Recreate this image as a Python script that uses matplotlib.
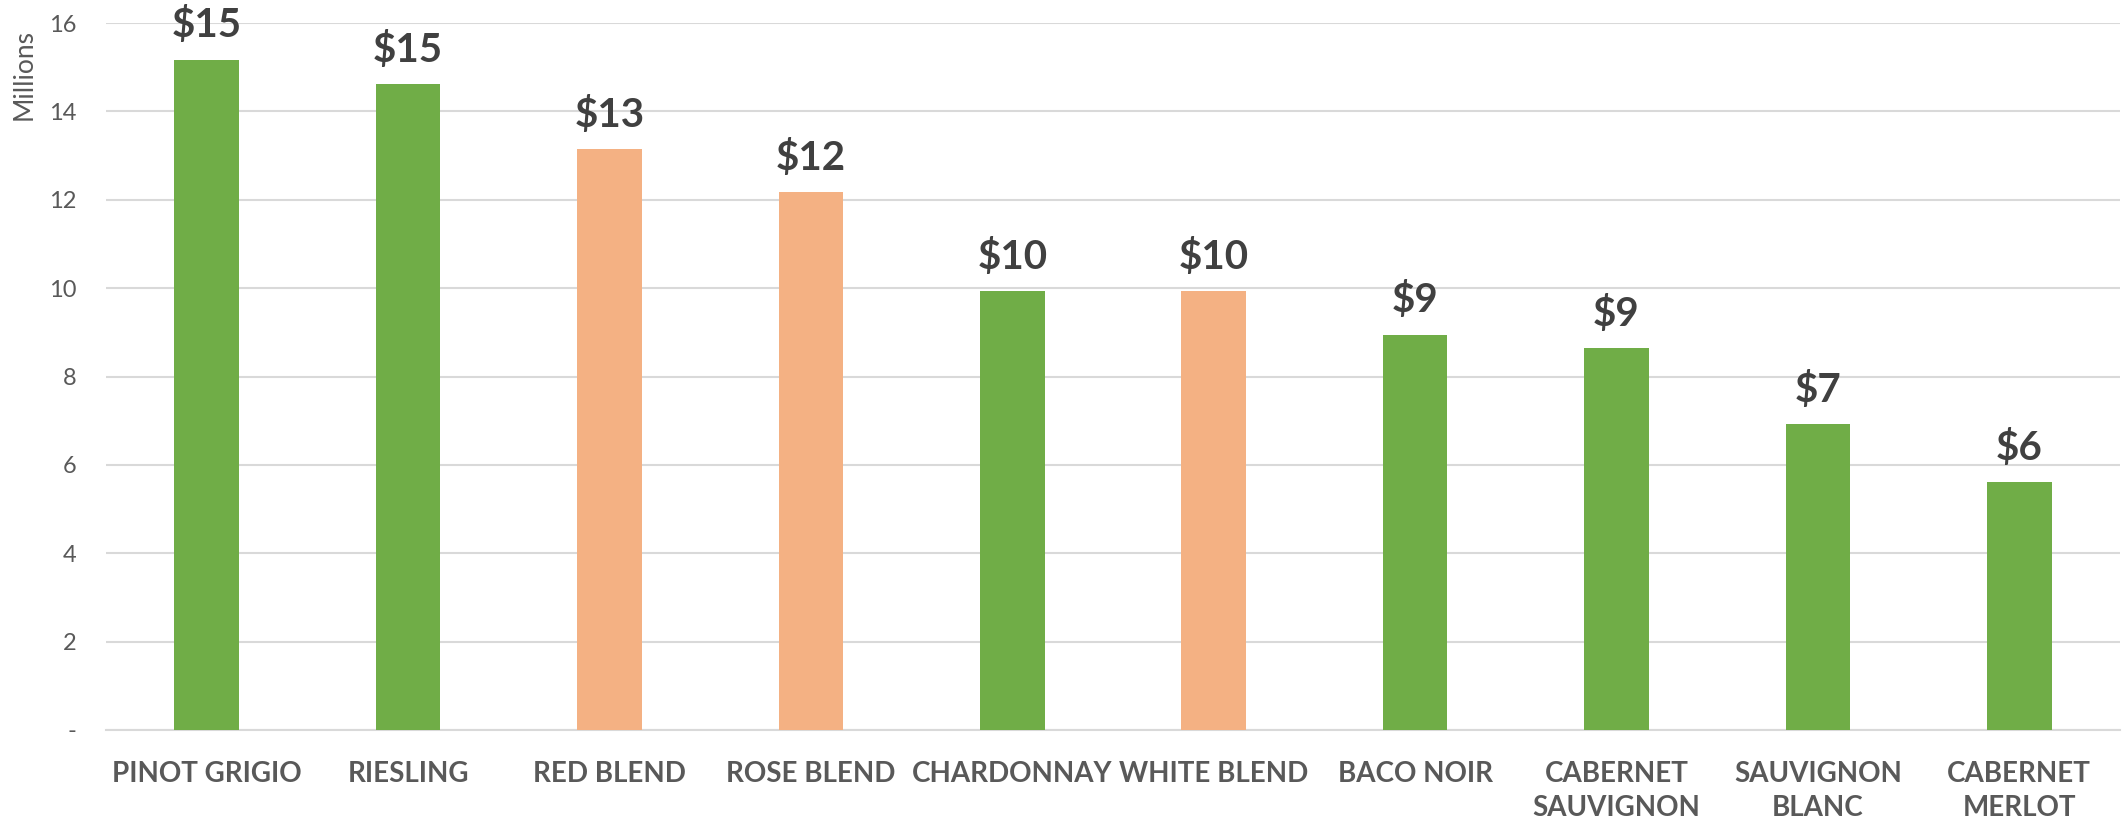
import numpy as np
import matplotlib.pyplot as plt

# wine sales, millions of dollars
wines = ['PINOT GRIGIO', 'RIESLING', 'RED BLEND', 'ROSE BLEND', 'CHARDONNAY',
         'WHITE BLEND', 'BACO NOIR', 'CABERNET\nSAUVIGNON', 'SAUVIGNON\nBLANC',
         'CABERNET\nMERLOT']
sales = [15.17, 14.62, 13.15, 12.17, 9.93, 9.93, 8.95, 8.64, 6.93, 5.61]
blend = [False, False, True, True, False, True, False, False, False, False]
yticks = [0, 2, 4, 6, 8, 10, 12, 14, 16]
ytick_labels = ['-', '2', '4', '6', '8', '10', '12', '14', '16']

green = '#70AD47'
orange = '#F4B183'
plt.rcParams['font.family'] = ['Lato', 'DejaVu Sans']

fig = plt.figure(figsize=(21.23, 8.25), dpi=100)
ax = fig.add_axes([106 / 2123, 1 - 730 / 825, (2120 - 106) / 2123, (730 - 23) / 825])

x = np.arange(len(wines))
colors = [orange if b else green for b in blend]
bars = ax.bar(x, sales, width=0.32, color=colors, zorder=3)

for xi, v in zip(x, sales):
    ax.annotate('${:.0f}'.format(v), (xi, v), xytext=(0, 11), textcoords='offset points',
                ha='center', va='bottom', fontsize=29, fontweight='bold', color='#404040')

ax.set_xlim(-0.5, len(wines) - 0.5)
ax.set_ylim(0, 16)
ax.set_yticks(yticks)
ax.set_yticklabels(ytick_labels)
ax.set_xticks(x)
ax.set_xticklabels(wines, fontsize=20, fontweight='bold', color='#595959', linespacing=1.4)
ax.tick_params(axis='x', length=0, pad=22)
ax.tick_params(axis='y', length=0, pad=21, labelsize=17, labelcolor='#595959')
ax.grid(axis='y', color='#D9D9D9', linewidth=1.5, zorder=0)
for s in ['top', 'right', 'left']:
    ax.spines[s].set_visible(False)
ax.spines['bottom'].set_color('#D9D9D9')
ax.spines['bottom'].set_linewidth(1.5)

fig.text(24 / 2123, 1 - 74 / 825, 'Millions', rotation=90, ha='center', va='center',
         fontsize=19, color='#595959')

fig.savefig('out.png', dpi=100)
